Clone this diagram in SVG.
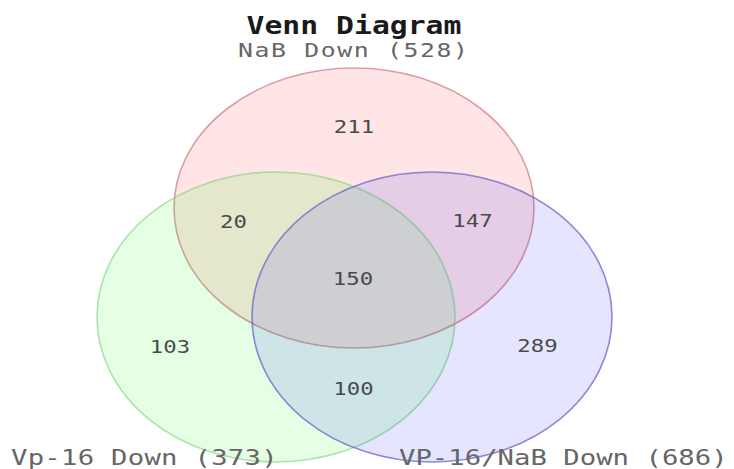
<svg xmlns="http://www.w3.org/2000/svg" width="734" height="469" viewBox="0 0 734 469">
<style>
.set{stroke-width:1.6}
.lbl{font-family:"DejaVu Sans Mono","Liberation Mono",monospace;fill:#666;font-size:22px}
.num{font-family:"DejaVu Sans Mono","Liberation Mono",monospace;fill:#4a4a4a;font-size:18px;text-anchor:middle}
.title{font-family:"DejaVu Sans Mono","Liberation Mono",monospace;fill:#1a1a1a;font-size:24px;font-weight:bold;text-anchor:middle}
</style>
<rect width="734" height="469" fill="#fff"/>
<g id="set-nab">
<ellipse class="set" cx="354" cy="208" rx="180" ry="140" fill="rgb(255,0,0)" fill-opacity="0.1" stroke="rgb(200,100,110)" stroke-opacity="0.6"/>
</g>
<g id="set-vp16">
<ellipse class="set" cx="276" cy="317" rx="179" ry="145" fill="rgb(0,255,0)" fill-opacity="0.1" stroke="rgb(120,210,120)" stroke-opacity="0.6"/>
</g>
<g id="set-vp16nab">
<ellipse class="set" cx="432" cy="317" rx="180" ry="145" fill="rgb(0,0,255)" fill-opacity="0.1" stroke="rgb(110,100,200)" stroke-opacity="0.75"/>
</g>
<g id="connectors"></g>
<g id="titles">
<text class="title" transform="translate(354,34) scale(1.24,1)">Venn Diagram</text>
<text class="lbl" transform="translate(238,56.5) scale(1.24,1)" style="font-size:20px" textLength="185.5" lengthAdjust="spacing">NaB Down (528)</text>
<text class="lbl" transform="translate(11,465) scale(1.24,1)" textLength="215" lengthAdjust="spacing">Vp-16 Down (373)</text>
<text class="lbl" transform="translate(399,465) scale(1.24,1)" textLength="265" lengthAdjust="spacing">VP-16/NaB Down (686)</text>
</g>
<g id="counts">
<text class="num" transform="translate(354,133) scale(1.24,1)">211</text>
<text class="num" transform="translate(233.5,227.5) scale(1.24,1)">20</text>
<text class="num" transform="translate(472.5,227) scale(1.24,1)">147</text>
<text class="num" transform="translate(353,285) scale(1.24,1)">150</text>
<text class="num" transform="translate(170,353) scale(1.24,1)">103</text>
<text class="num" transform="translate(537.5,352) scale(1.24,1)">289</text>
<text class="num" transform="translate(353.5,395) scale(1.24,1)">100</text>
</g>
</svg>
